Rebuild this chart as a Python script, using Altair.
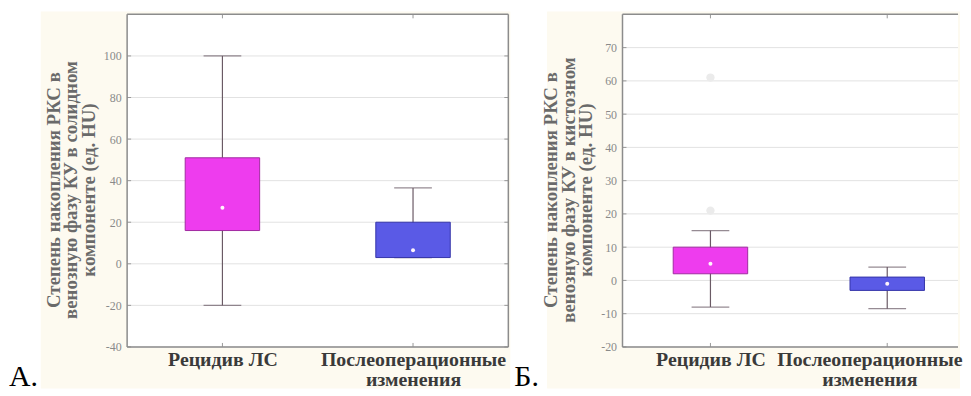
import altair as alt
import pandas as pd

SERIF = "Liberation Serif"

categories = ["Рецидив ЛС", "Послеоперационные\nизменения"]

# Panel A (solid component)
a_low = [-20, 3]
a_q1 = [16, 3]
a_mid = [27, 6.5]
a_q3 = [51, 20]
a_high = [100, 36.5]
a_ticks = [-40, -20, 0, 20, 40, 60, 80, 100]
a_domain = [-40, 120]
a_title = ["Степень накопления РКС в", "венозную фазу КУ в солидном", "компоненте (ед. HU)"]

# Panel B (cystic component)
b_low = [-8, -8.5]
b_q1 = [2, -3]
b_mid = [5, -1]
b_q3 = [10, 1]
b_high = [15, 4]
b_out_cat = ["Рецидив ЛС", "Рецидив ЛС"]
b_out_val = [21, 61]
b_ticks = [-20, -10, 0, 10, 20, 30, 40, 50, 60, 70]
b_domain = [-20, 80]
b_title = ["Степень накопления РКС в", "венозную фазу КУ в кистозном", "компоненте (ед. HU)"]

fills = ["#ee3cee", "#5a5ae6"]
strokes = ["#a02aa0", "#3434a8"]
WHISK = "#6a5a65"
FRAME = "#8c8c8c"


def panel(letter, letter_x, cream_left, low, q1, mid, q3, high, ticks, domain, title,
          W, H, xscale, out_cat=None, out_val=None, right_frame=True, second_shift=0):
    box = pd.DataFrame(dict(cat=categories, low=low, q1=q1, mid=mid, q3=q3, high=high))
    grid = pd.DataFrame(dict(v=ticks))
    one = pd.DataFrame(dict(k=[0]))
    ys = alt.Scale(domain=domain, nice=False, zero=False)
    yax = alt.Axis(values=ticks, grid=False, domain=False, ticks=False, labelFont=SERIF,
                   labelFontSize=12, labelColor="#8a8a8a", labelPadding=6, title=title,
                   labelExpr="'' + datum.value",
                   titleFont=SERIF, titleFontSize=19, titleFontWeight="bold",
                   titleColor="#6a6a6a", titlePadding=5, titleLineHeight=17.5,
                   titleY=H / 2 + 9, zindex=1)
    xax = alt.Axis(title=None, labelExpr="split(datum.value, '\\n')", labelAngle=0,
                   labelFont=SERIF, labelFontSize=20, labelFontWeight="bold",
                   labelColor="#3a3a3a", labelPadding=3, labelLineHeight=20, labelLimit=400,
                   labelOverlap=False, domain=False, ticks=False, grid=False, zindex=1,
                   labelOffset={"condition": {"test": "datum.value != 'Рецидив ЛС'",
                                              "value": second_shift}, "value": 0})
    X = alt.X("cat:N", sort=categories, scale=xscale, axis=xax)

    def Y(f):
        return alt.Y(f"{f}:Q", scale=ys, axis=yax)

    layers = []
    layers.append(alt.Chart(one).mark_rect(fill="#fdfaf0").encode(
        x=alt.value(cream_left), x2=alt.value(W + 2), y=alt.value(-3), y2=alt.value(H + 42)))
    layers.append(alt.Chart(one).mark_rect(fill="white").encode(
        x=alt.value(0), x2=alt.value(W), y=alt.value(0), y2=alt.value(H)))
    layers.append(alt.Chart(grid).mark_rule(color="#e2e2e2", strokeWidth=1).encode(
        y=Y("v"), x=alt.value(0), x2=alt.value(W)))
    layers.append(alt.Chart(grid).mark_rule(color="#999999").encode(
        y=Y("v"), x=alt.value(0), x2=alt.value(4)))
    if right_frame:
        layers.append(alt.Chart(grid).mark_rule(color="#999999").encode(
            y=Y("v"), x=alt.value(W - 4), x2=alt.value(W)))
    layers.append(alt.Chart(box).mark_rule(color="#999999").encode(
        x=X, y=alt.value(0), y2=alt.value(4)))
    layers.append(alt.Chart(box).mark_rule(color="#999999").encode(
        x=X, y=alt.value(H - 4), y2=alt.value(H)))
    layers.append(alt.Chart(box).mark_rule(color=WHISK, strokeWidth=1.2).encode(
        x=X, y=Y("low"), y2="high"))
    layers.append(alt.Chart(box).mark_tick(color=WHISK, size=38, thickness=1.3).encode(
        x=X, y=Y("low")))
    layers.append(alt.Chart(box).mark_tick(color=WHISK, size=38, thickness=1.3).encode(
        x=X, y=Y("high")))
    layers.append(alt.Chart(box).mark_bar(size=75, strokeWidth=1).encode(
        x=X, y=Y("q1"), y2="q3",
        fill=alt.Fill("cat:N", scale=alt.Scale(domain=categories, range=fills), legend=None),
        stroke=alt.Stroke("cat:N", scale=alt.Scale(domain=categories, range=strokes), legend=None)))
    layers.append(alt.Chart(box).mark_point(filled=True, color="#fff4fb", size=16, opacity=1).encode(
        x=X, y=Y("mid")))
    if out_cat is not None:
        outs = pd.DataFrame(dict(cat=out_cat, val=out_val))
        layers.append(alt.Chart(outs).mark_point(filled=True, color="#ebebeb", size=70, opacity=1).encode(
            x=X, y=Y("val")))
    layers.append(alt.Chart(one).mark_rule(color=FRAME, strokeWidth=1.5).encode(
        x=alt.value(0), x2=alt.value(W), y=alt.value(0)))
    layers.append(alt.Chart(one).mark_rule(color=FRAME, strokeWidth=1.5).encode(
        x=alt.value(0), x2=alt.value(W), y=alt.value(H)))
    layers.append(alt.Chart(one).mark_rule(color=FRAME, strokeWidth=1.5).encode(
        x=alt.value(0), y=alt.value(0), y2=alt.value(H)))
    if right_frame:
        layers.append(alt.Chart(one).mark_rule(color=FRAME, strokeWidth=1.5).encode(
            x=alt.value(W), y=alt.value(0), y2=alt.value(H)))
    layers.append(alt.Chart(one).mark_text(text=letter, font=SERIF, fontSize=30, align="left",
                                           baseline="alphabetic", color="black").encode(
        x=alt.value(letter_x), y=alt.value(H + 39)))
    return alt.layer(*layers).properties(width=W, height=H)


sA = alt.Scale(type="point", domain=categories, padding=0.5)
sB = alt.Scale(type="point", domain=categories, padding=0.449, align=0.554)

pa = panel("А.", -119, -87, a_low, a_q1, a_mid, a_q3, a_high, a_ticks, a_domain, a_title,
           384, 335, sA)
pb = panel("Б.", -109, -76, b_low, b_q1, b_mid, b_q3, b_high, b_ticks, b_domain, b_title,
           338, 335, sB, b_out_cat, b_out_val, right_frame=False, second_shift=-18)

chart = alt.hconcat(pa, pb, spacing=2).properties(
    padding={"left": 0, "top": 1, "right": 0, "bottom": 0}
).configure_view(stroke="transparent").configure(background="white")

chart.save("out.html", embed_options={"renderer": "svg", "actions": False})
